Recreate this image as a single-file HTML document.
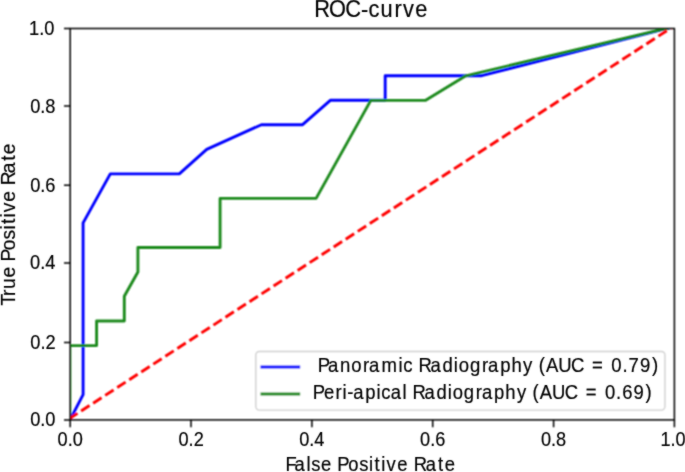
<!DOCTYPE html>
<html><head><meta charset="utf-8"><style>
html,body{margin:0;padding:0;background:#fff;width:685px;height:472px;overflow:hidden}
svg{display:block}
text{font-family:"Liberation Sans",sans-serif;fill:#000;stroke:#000;stroke-width:0.2px}
.tk text{stroke-width:0.2px}
</style></head><body>
<svg width="685" height="472" viewBox="0 0 685 472">
<defs>
<filter id="bl" x="0" y="0" width="685" height="472" filterUnits="userSpaceOnUse"><feConvolveMatrix order="3" kernelMatrix="1 2 1 2 4 2 1 2 1" divisor="16" edgeMode="none"/></filter>
<filter id="tb" x="0" y="0" width="685" height="472" filterUnits="userSpaceOnUse"><feConvolveMatrix order="3" kernelMatrix="1 2 1 2 20 2 1 2 1" divisor="32" edgeMode="none"/></filter>
<clipPath id="ax"><rect x="70.2" y="28.5" width="604.2" height="391.4"/></clipPath>
</defs>
<rect width="685" height="472" fill="#fff"/>
<g filter="url(#bl)">
<g clip-path="url(#ax)" fill="none" stroke-width="2.9" stroke-linejoin="round">
<polyline stroke="#0000ff" points="70.2,419.4 83.1,394.6 83.1,222.9 110.3,173.9 179.3,173.9 206.7,149.4 261.4,124.7 302.6,124.7 330.3,100.3 385.2,100.3 385.2,75.7 481.7,75.7 674.4,26.5"/>
<polyline stroke="#1f8a1f" points="69.8,419.4 69.8,345.6 96.6,345.6 96.6,320.95 124.3,320.95 124.3,296.2 137.9,272.0 137.9,247.5 220.1,247.5 220.1,198.4 316.1,198.4 370.8,100.35 425.7,100.35 465.8,75.8 674.4,26.5"/>
<line x1="70.2" y1="418.1" x2="674.2" y2="25.9" stroke="#ff0000" stroke-dasharray="10 4.34" stroke-dashoffset="1.3"/>
</g>
<g stroke="#000" stroke-width="1.5" fill="none" stroke-linecap="butt">
<rect x="70.2" y="28.5" width="604.2" height="391.4"/>
<path d="M70.2 419.9V427.2M191.0 419.9V427.2M311.9 419.9V427.2M432.7 419.9V427.2M553.6 419.9V427.2M674.4 419.9V427.2"/>
<path d="M64.0 419.9H70.2M64.0 342.4H70.2M64.0 263.0H70.2M64.0 185.3H70.2M64.0 106.1H70.2M64.0 28.5H70.2"/>
</g>
<rect x="255.8" y="351.5" width="409.1" height="58.6" rx="3.5" fill="#fff" fill-opacity="0.8" stroke="#d0d0d0" stroke-width="1.4"/>
<line x1="260.5" y1="367.0" x2="300.2" y2="367.0" stroke="#0000ff" stroke-width="3"/>
<line x1="260.5" y1="394.0" x2="300.2" y2="394.0" stroke="#1f8a1f" stroke-width="3"/>
</g>
<g filter="url(#tb)">
<g class="tk">
<text transform="translate(30.17,426.47) scale(0.89,1)" font-size="20.5">0.0</text>
<text transform="translate(30.35,348.89) scale(0.89,1)" font-size="20.5">0.2</text>
<text transform="translate(29.99,269.46) scale(0.89,1)" font-size="20.5">0.4</text>
<text transform="translate(30.17,191.72) scale(0.89,1)" font-size="20.5">0.6</text>
<text transform="translate(30.17,112.74) scale(0.89,1)" font-size="20.5">0.8</text>
<text transform="translate(29.07,34.62) scale(0.89,1)" font-size="20.5">1.0</text>
<text transform="translate(57.58,446.1) scale(0.89,1)" font-size="20.4">0.0</text>
<text transform="translate(178.51,446.1) scale(0.89,1)" font-size="20.4">0.2</text>
<text transform="translate(299.17,446.1) scale(0.89,1)" font-size="20.4">0.4</text>
<text transform="translate(420.10,446.1) scale(0.89,1)" font-size="20.4">0.6</text>
<text transform="translate(540.94,446.1) scale(0.89,1)" font-size="20.4">0.8</text>
<text transform="translate(660.42,446.1) scale(0.89,1)" font-size="20.4">1.0</text>
</g>
<text transform="translate(314.52,16.60) scale(0.9709,1.0360)" font-size="22.45" x="-0.17 15.03 31.73 47.78 55.59 68.08 82.46 91.10 103.69" xml:space="preserve">ROC-curve</text>
<text transform="translate(285.91,470.60) scale(0.9526,1.0200)" font-size="19.33" x="-0.42 9.06 21.52 26.62 36.86 48.45 53.84 65.52 77.04 87.25 93.08 100.09 105.72 116.77 128.36 134.08 146.76 159.73 166.77" xml:space="preserve">False Positive Rate</text>
<text transform="translate(14.90,305.25) rotate(-90) scale(0.9963,1.0350)" font-size="19.26" x="-0.31 9.35 16.34 27.82 38.97 43.93 55.12 66.12 75.97 81.49 88.19 93.44 103.95 115.11 120.36 132.50 144.99 151.58" xml:space="preserve">True Positive Rate</text>
<text transform="translate(312.48,371.80) scale(0.9676,1.0350)" font-size="19.15" x="0.31 5.50 16.06 28.44 40.04 52.10 58.46 71.37 88.87 93.72 104.16 109.67 122.06 134.28 146.13 151.24 162.76 175.15 181.51 193.98 205.72 217.69 228.32 233.92 241.23 253.93 267.18 281.03 288.90 302.62 308.86 320.44 326.65 338.51 350.78" xml:space="preserve"> Panoramic Radiography (AUC = 0.79)</text>
<text transform="translate(313.23,398.80) scale(0.9657,1.0350)" font-size="19.11" x="-0.42 11.05 23.11 30.24 35.13 41.40 53.87 65.47 70.32 80.16 92.36 97.40 102.91 115.29 127.52 139.36 144.47 155.99 168.38 174.75 187.21 198.95 210.92 221.54 227.14 234.46 247.16 260.42 274.25 282.13 295.84 302.09 313.65 319.91 331.73 344.00" xml:space="preserve">Peri-apical Radiography (AUC = 0.69)</text>
</g>
</svg>
</body></html>
